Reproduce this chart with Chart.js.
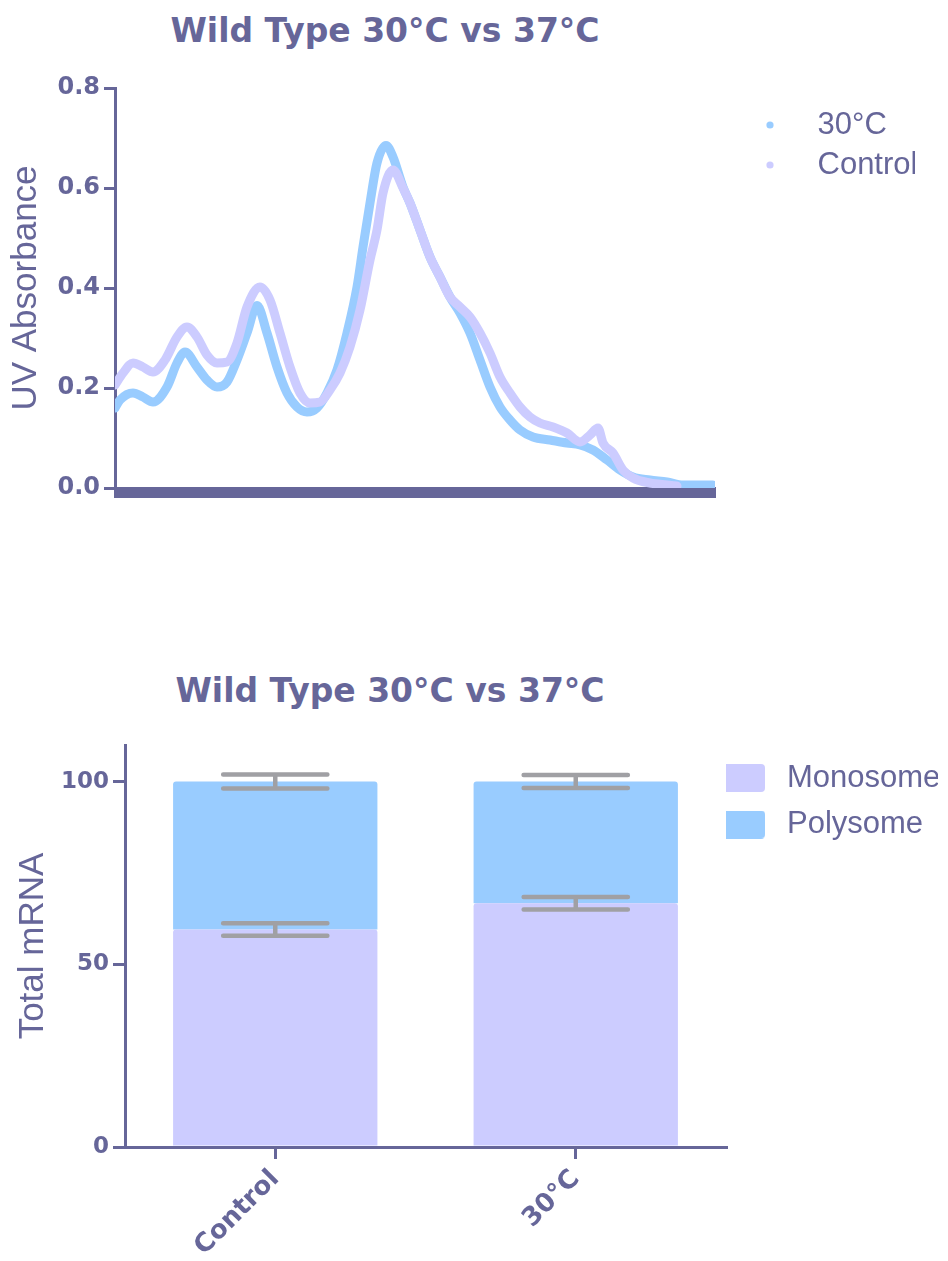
<!DOCTYPE html>
<html>
<head>
<meta charset="utf-8">
<script src="https://cdn.jsdelivr.net/npm/chart.js@4.4.1/dist/chart.umd.min.js"></script>
<style>
  html, body { margin: 0; padding: 0; background: #ffffff; }
  body { width: 948px; height: 1261px; position: relative; overflow: hidden; }
  .panel { position: absolute; left: 0; width: 948px; }
  .heading {
    position: absolute; left: 0; margin: 0; text-align: center;
    font: bold 33px "DejaVu Sans", sans-serif; line-height: 40px; color: #666699;
    white-space: nowrap;
  }
</style>
</head>
<body>
<h1 class="heading" style="top:11px; width:770px;">Wild Type 30°C vs 37°C</h1>
<div class="panel" style="top:0; height:560px;"><canvas id="uvChart" width="948" height="560"></canvas></div>
<h1 class="heading" style="top:671px; width:780px;">Wild Type 30°C vs 37°C</h1>
<div class="panel" style="top:600px; height:661px;"><canvas id="mrnaChart" width="948" height="661"></canvas></div>

<script>
// ---- Gradient profiles: position along the gradient vs UV absorbance ----
const gradientPos30 = [0, 5, 18, 28, 38, 52, 62, 70, 82, 92, 102, 112, 122, 132, 142, 152, 162, 172, 182, 192,
  202, 212, 222, 232, 242, 248, 255, 262, 271, 278, 288, 295, 305, 315, 325, 335, 345, 355, 365, 375,
  385, 395, 405, 418, 435, 452, 465, 478, 492, 505, 518, 535, 552, 568, 585, 598];
const absorbance30 = [0.160, 0.176, 0.190, 0.182, 0.172, 0.202, 0.250, 0.272, 0.242, 0.216, 0.202, 0.212, 0.256, 0.310, 0.365, 0.310, 0.242, 0.190, 0.162, 0.152,
  0.160, 0.190, 0.236, 0.310, 0.402, 0.482, 0.570, 0.650, 0.685, 0.662, 0.602, 0.570, 0.516, 0.462, 0.422, 0.382, 0.350, 0.310, 0.256, 0.202,
  0.162, 0.136, 0.116, 0.102, 0.096, 0.090, 0.086, 0.076, 0.056, 0.036, 0.022, 0.016, 0.012, 0.006, 0.006, 0.006];

const gradientPosControl = [0, 8, 18, 28, 38, 50, 62, 72, 82, 92, 102, 112, 122, 132, 145, 155, 165, 175, 185, 195,
  205, 215, 225, 235, 245, 255, 262, 268, 278, 288, 295, 305, 315, 325, 335, 345, 355, 365, 375, 385,
  395, 405, 415, 425, 438, 452, 465, 475, 483, 488, 498, 508, 518, 535, 552, 562];
const absorbanceControl = [0.206, 0.230, 0.250, 0.242, 0.232, 0.256, 0.302, 0.322, 0.302, 0.266, 0.250, 0.252, 0.290, 0.362, 0.402, 0.376, 0.310, 0.242, 0.190, 0.170,
  0.172, 0.196, 0.230, 0.282, 0.356, 0.456, 0.516, 0.590, 0.636, 0.600, 0.570, 0.516, 0.462, 0.422, 0.382, 0.362, 0.342, 0.310, 0.270, 0.222,
  0.190, 0.162, 0.142, 0.130, 0.122, 0.110, 0.092, 0.106, 0.120, 0.090, 0.070, 0.036, 0.020, 0.010, 0.006, 0.004];

const uvTicks = [0, 0.2, 0.4, 0.6, 0.8];

// ---- mRNA distribution (percent of total) ----
const conditions = ['Control', '30°C'];
const monosome = [59.5, 66.7];
const polysome = [40.5, 33.3];
const monosomeSem = [1.7, 1.7];
const polysomeSem = [1.9, 1.8];
const mrnaTicks = [0, 50, 100];

// ---- shared styling ----
const INK = '#666699';
const BLUE = '#99ccff';
const LAVENDER = '#ccccff';
const ERR = '#a0a0a4';
const boldFont = (size) => ({ family: 'DejaVu Sans', weight: 'bold', size });
const plainFont = (size) => ({ family: 'Liberation Sans', weight: 'normal', size });

// Legend markers drawn on small canvases so the swatch sits at a chosen offset from its label
function dotSwatch(color) {
  const c = document.createElement('canvas');
  c.width = 78; c.height = 10;
  const g = c.getContext('2d');
  g.fillStyle = color;
  g.beginPath(); g.arc(46, 5, 3.6, 0, Math.PI * 2); g.fill();
  return c;
}
function boxSwatch(color) {
  const c = document.createElement('canvas');
  c.width = 81; c.height = 28;
  const g = c.getContext('2d');
  g.fillStyle = color;
  g.beginPath(); g.roundRect(0, 0, 49, 28, 4); g.fill();
  return c;
}
function legendItems(chart, swatch) {
  return chart.data.datasets.map((ds, i) => ({
    text: ds.label,
    pointStyle: swatch(ds.backgroundColor),
    fillStyle: ds.backgroundColor,
    strokeStyle: ds.backgroundColor,
    lineWidth: 0,
    fontColor: INK,
    hidden: false,
    datasetIndex: i
  }));
}
const fixedTicks = (values) => (scale) => { scale.ticks = values.map(v => ({ value: v })); };

// ---- UV absorbance profile ----
new Chart(document.getElementById('uvChart'), {
  type: 'line',
  data: {
    datasets: [
      {
        label: '30°C',
        data: gradientPos30.map((x, i) => ({ x, y: absorbance30[i] })),
        borderColor: BLUE, backgroundColor: BLUE,
        borderWidth: 9, pointRadius: 0, cubicInterpolationMode: 'monotone',
        borderCapStyle: 'round', borderJoinStyle: 'round', order: 1
      },
      {
        label: 'Control',
        data: gradientPosControl.map((x, i) => ({ x, y: absorbanceControl[i] })),
        borderColor: LAVENDER, backgroundColor: LAVENDER,
        borderWidth: 9, pointRadius: 0, cubicInterpolationMode: 'monotone',
        borderCapStyle: 'round', borderJoinStyle: 'round', order: 0
      }
    ]
  },
  options: {
    responsive: false, animation: false, events: [],
    layout: { padding: { top: 88, right: 33, bottom: 60, left: 0 } },
    scales: {
      x: {
        type: 'linear', min: 0, max: 600,
        afterFit: (s) => { s.height = 12; },
        ticks: { display: false, stepSize: 1, maxTicksLimit: 1000 },
        grid: { drawOnChartArea: false, drawTicks: true, tickLength: 10, color: INK, lineWidth: 2 },
        border: { display: true, color: INK, width: 3 }
      },
      y: {
        min: 0, max: 0.8,
        afterBuildTicks: fixedTicks(uvTicks),
        afterFit: (s) => { s.width = 115; },
        ticks: { color: INK, font: boldFont(24), padding: 4, callback: (v) => Number(v).toFixed(1) },
        grid: { drawOnChartArea: false, tickLength: 11, color: INK, lineWidth: 3 },
        border: { display: true, color: INK, width: 3 },
        title: { display: true, text: 'UV Absorbance', color: INK, font: plainFont(35), padding: { top: 5, bottom: 0 } }
      }
    },
    plugins: {
      tooltip: { enabled: false },
      legend: {
        position: 'right', align: 'start', fullSize: false, maxWidth: 200,
        title: { display: true, text: '', font: { size: 1 }, padding: { top: 11.3, bottom: 0 } },
        labels: {
          usePointStyle: true, pointStyleWidth: 78, padding: 9,
          color: INK, font: plainFont(31),
          generateLabels: (chart) => legendItems(chart, dotSwatch)
        }
      }
    }
  }
});

// ---- stacked monosome / polysome bars with SEM whiskers ----
const semWhiskers = {
  id: 'semWhiskers',
  afterDatasetsDraw(chart, args, opts) {
    const { ctx, scales: { y } } = chart;
    const sems = opts.sems;
    ctx.save();
    ctx.strokeStyle = ERR;
    ctx.lineWidth = 4.5;
    ctx.lineCap = 'round';
    chart.data.datasets.forEach((ds, d) => {
      const meta = chart.getDatasetMeta(d);
      meta.data.forEach((bar, i) => {
        let top = 0;
        for (let k = 0; k <= d; k++) top += chart.data.datasets[k].data[i];
        const hi = y.getPixelForValue(top + sems[d][i]);
        const lo = y.getPixelForValue(top - sems[d][i]);
        const half = bar.width * 0.255;
        ctx.beginPath();
        ctx.moveTo(bar.x, hi); ctx.lineTo(bar.x, lo);
        ctx.moveTo(bar.x - half, hi); ctx.lineTo(bar.x + half, hi);
        ctx.moveTo(bar.x - half, lo); ctx.lineTo(bar.x + half, lo);
        ctx.stroke();
      });
    });
    ctx.restore();
  }
};

new Chart(document.getElementById('mrnaChart'), {
  type: 'bar',
  data: {
    labels: conditions,
    datasets: [
      { label: 'Monosome', data: monosome, backgroundColor: LAVENDER,
        barPercentage: 0.68, categoryPercentage: 1, borderRadius: { topLeft: 3, topRight: 3 }, borderSkipped: 'start' },
      { label: 'Polysome', data: polysome, backgroundColor: BLUE,
        barPercentage: 0.68, categoryPercentage: 1, borderRadius: { topLeft: 3, topRight: 3 }, borderSkipped: 'start' }
    ]
  },
  plugins: [semWhiskers],
  options: {
    responsive: false, animation: false, events: [],
    layout: { padding: { top: 145, right: 10, bottom: 0, left: 0 } },
    scales: {
      x: {
        stacked: true, offset: true,
        afterFit: (s) => { s.height = 114; },
        ticks: { color: INK, font: boldFont(26), minRotation: 45, maxRotation: 45, padding: 5 },
        grid: { drawOnChartArea: false, tickLength: 12, color: INK, lineWidth: 3, offset: false },
        border: { display: true, color: INK, width: 3 }
      },
      y: {
        stacked: true, min: 0, max: 110,
        afterBuildTicks: fixedTicks(mrnaTicks),
        afterFit: (s) => { s.width = 125; },
        ticks: { color: INK, font: boldFont(23), padding: 4 },
        grid: { drawOnChartArea: false, tickLength: 12, color: INK, lineWidth: 3 },
        border: { display: true, color: INK, width: 3 },
        title: { display: true, text: 'Total mRNA', color: INK, font: plainFont(35), padding: { top: 12, bottom: 0 } }
      }
    },
    plugins: {
      tooltip: { enabled: false },
      semWhiskers: { sems: [monosomeSem, polysomeSem] },
      legend: {
        position: 'right', align: 'start', fullSize: false, maxWidth: 212,
        title: { display: true, text: '', font: { size: 1 }, padding: { top: 0.8, bottom: 0 } },
        labels: {
          usePointStyle: true, pointStyleWidth: 30, padding: 15.5,
          color: INK, font: plainFont(31),
          generateLabels: (chart) => legendItems(chart, boxSwatch)
        }
      }
    }
  }
});
</script>
</body>
</html>
